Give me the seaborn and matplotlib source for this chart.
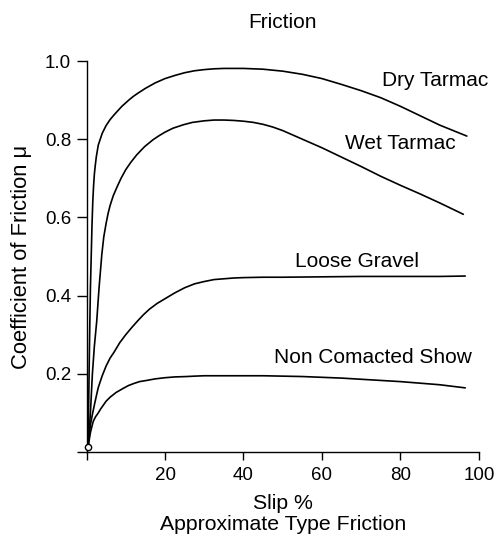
import numpy as np
import pandas as pd
import matplotlib
matplotlib.use("Agg")
import matplotlib.pyplot as plt
import seaborn as sns

# ---- data ----
dry_x = [0.4, 0.8, 1.0, 1.2, 1.4, 1.6, 1.8, 2.0, 2.2, 2.5, 3, 3.5, 4, 5, 6, 7, 8, 9, 10,
         11, 12, 13, 15, 17.5, 20, 22.5, 25, 27.5, 30, 32.5, 35, 37.5, 40,
         45, 50, 55, 60, 65, 70, 75, 80, 85, 90, 96.9]
dry_y = [0.013, 0.30, 0.42, 0.50, 0.58, 0.64, 0.68, 0.71, 0.73, 0.755, 0.785, 0.80,
         0.815, 0.835, 0.85, 0.862, 0.873, 0.884, 0.893, 0.902, 0.91, 0.917, 0.93,
         0.944, 0.955, 0.963, 0.97, 0.975, 0.978, 0.980, 0.981, 0.981, 0.981,
         0.979, 0.974, 0.966, 0.955, 0.94, 0.924, 0.906, 0.884, 0.86, 0.836, 0.808]

wet_x = [0.4, 1, 1.5, 2, 2.6, 3.2, 3.9, 4.4, 5, 5.5, 6, 6.8, 7.7, 8.8, 10, 11.3, 12.8,
         14.8, 17, 18.5, 20, 22, 24.7, 27, 30, 32.5, 35, 37.5, 40, 42.5, 45, 47.5, 50,
         52.5, 55, 60, 65, 70, 75, 80, 85, 90, 96]
wet_y = [0.013, 0.10, 0.20, 0.27, 0.334, 0.42, 0.505, 0.55, 0.585, 0.61, 0.63, 0.655,
         0.676, 0.70, 0.722, 0.741, 0.760, 0.781, 0.799, 0.809, 0.818, 0.828, 0.837,
         0.843, 0.847, 0.849, 0.849, 0.848, 0.846, 0.843, 0.838, 0.831, 0.822, 0.811,
         0.80, 0.778, 0.754, 0.73, 0.705, 0.682, 0.66, 0.637, 0.608]

gravel_x = [0.4, 1, 1.5, 2, 2.5, 3, 4, 5, 6, 7, 8.5, 10, 11.5, 13, 14.5, 16, 18, 20,
            22.5, 25, 27.5, 30, 32.5, 35, 37.5, 40, 45, 50, 60, 70, 80, 90, 96.5]
gravel_y = [0.013, 0.07, 0.096, 0.12, 0.143, 0.165, 0.195, 0.22, 0.24, 0.255, 0.28,
            0.30, 0.318, 0.335, 0.351, 0.365, 0.38, 0.392, 0.407, 0.42, 0.43, 0.436,
            0.441, 0.443, 0.445, 0.446, 0.447, 0.447, 0.448, 0.449, 0.449, 0.449, 0.45]

snow_x = [0.4, 1, 1.7, 2.3, 3, 3.6, 4.3, 5, 6, 7.5, 9.4, 10.7, 12, 13.5, 15.3, 17.5, 20,
          22.5, 25.5, 27.5, 30, 35, 40, 45, 50, 55, 60, 65, 70, 75, 80, 85, 90, 96.5]
snow_y = [0.013, 0.05, 0.078, 0.09, 0.10, 0.11, 0.12, 0.13, 0.14, 0.152, 0.163, 0.17,
          0.175, 0.18, 0.183, 0.187, 0.19, 0.192, 0.193, 0.194, 0.195, 0.195, 0.195,
          0.195, 0.194, 0.193, 0.191, 0.189, 0.186, 0.183, 0.18, 0.176, 0.172, 0.164]

series_names = ["Dry Tarmac", "Wet Tarmac", "Loose Gravel", "Non Comacted Show"]
label_x = [88.8, 80, 69, 73]
label_y = [0.949, 0.79, 0.487, 0.241]

x_ticks = [0, 20, 40, 60, 80, 100]
x_tick_labels = ["", "20", "40", "60", "80", "100"]
y_ticks = [0, 0.2, 0.4, 0.6, 0.8, 1.0]
y_tick_labels = ["", "0.2", "0.4", "0.6", "0.8", "1.0"]

# ---- build long-form table ----
frames = []
for name, xs, ys in zip(series_names, [dry_x, wet_x, gravel_x, snow_x],
                        [dry_y, wet_y, gravel_y, snow_y]):
    frames.append(pd.DataFrame({"slip": xs, "mu": ys, "surface": name}))
df = pd.concat(frames, ignore_index=True)

sns.set_style("ticks")
plt.rcParams["font.family"] = ["Liberation Sans", "DejaVu Sans"]
plt.rcParams["text.color"] = "black"
plt.rcParams["axes.labelcolor"] = "black"
plt.rcParams["xtick.color"] = "black"
plt.rcParams["ytick.color"] = "black"
plt.rcParams["axes.edgecolor"] = "black"

fig = plt.figure(figsize=(5.02, 5.40), dpi=100)
ax = fig.add_axes([86.5 / 502, 88 / 540, 392.5 / 502, 391 / 540])

sns.lineplot(data=df, x="slip", y="mu", hue="surface", units="surface", estimator=None,
             sort=False, palette=["black"] * 4, linewidth=1.2, legend=False, ax=ax,
             clip_on=False)

ax.plot([0.4], [0.013], marker="o", markersize=4.5, markerfacecolor="white",
        markeredgecolor="black", markeredgewidth=1.0, linestyle="none", clip_on=False,
        zorder=5)

for name, lx, ly in zip(series_names, label_x, label_y):
    ax.text(lx, ly, name, ha="center", va="center", fontsize=15, color="black")

ax.set_xlim(0, 100)
ax.set_ylim(0, 1.0)
ax.set_xticks(x_ticks)
ax.set_xticklabels(x_tick_labels)
ax.set_yticks(y_ticks)
ax.set_yticklabels(y_tick_labels)
ax.tick_params(axis="x", length=6, width=1.0, labelsize=13.5, pad=5, colors="black")
ax.tick_params(axis="y", length=7, width=1.0, labelsize=13.5, pad=4, colors="black")

for s in ["top", "right"]:
    ax.spines[s].set_visible(False)
for s in ["left", "bottom"]:
    ax.spines[s].set_linewidth(1.0)
    ax.spines[s].set_color("black")

ax.set_xlabel("Slip %\nApproximate Type Friction", fontsize=15.3, labelpad=7,
              linespacing=1.1, color="black")
ax.set_ylabel("Coefficient of Friction μ", fontsize=15.8, labelpad=9, color="black")
ax.set_title("Friction", fontsize=15, pad=24, color="black")

fig.savefig("out.png", dpi=100, facecolor="white")
